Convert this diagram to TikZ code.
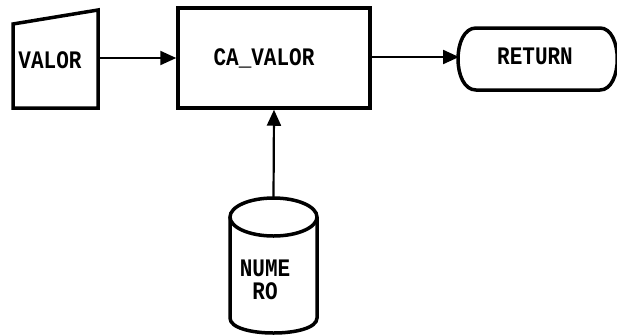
\documentclass[tikz,border=0pt]{standalone}
\usepackage{fontspec}
\newfontfamily\pixfont{Liberation Mono}
\usetikzlibrary{arrows.meta}
\tikzset{
  lbl/.style={font=\pixfont\bfseries\fontsize{21}{24}\selectfont, inner sep=0pt, align=center},
  outline/.style={line width=3.5pt, line join=miter},
  conn/.style={line width=2.2pt, -{Triangle[length=16pt,width=14pt]}},
}
\newcommand{\tall}[1]{\scalebox{1}[1.2]{#1}}
\begin{document}
\begin{tikzpicture}[x=1pt,y=-1pt]
\useasboundingbox (0,0) rectangle (617,335);
\clip (0,0) rectangle (617,335);
% VALOR manual input
\node[lbl, minimum width=85pt, minimum height=97pt] (valor) at (55.5,59) {};
\node[lbl] (valort) at (50,60) {\tall{VALOR}};
\draw[outline] (13,24) -- (98,10) -- (98,108) -- (13,108) -- cycle;
% CA_VALOR process
\node[lbl, draw, outline, minimum width=192pt, minimum height=100pt] (ca) at (274,58) {};
\node[lbl] (cat) at (264,58) {\tall{CA\_VALOR}};
% RETURN terminator
\node[lbl, minimum width=160pt, minimum height=62pt] (ret) at (537,59) {};
\node[lbl] (rett) at (535,56) {\tall{RETURN}};
\draw[outline] (476,28) -- (600,28) .. controls (623,28) and (623,90) .. (600,90)
  -- (476,90) .. controls (452,90) and (452,28) .. (476,28) -- cycle;
% NUMERO cylinder
\node[lbl, minimum width=87pt, minimum height=130pt] (num) at (273.5,262) {};
\node[lbl] (numt1) at (265,268) {\tall{NUME}};
\node[lbl] (numt2) at (265,291) {\tall{RO}};
\draw[outline] (230,217) -- (230,318) .. controls (230,338) and (317,338) .. (317,318) -- (317,217);
\draw[outline] (273.5,217) ellipse[x radius=43.5, y radius=19];
\coordinate (cyltop) at (273.5,198);
% connectors
\draw[conn] (valor.east |- ca.west) ++(1.5,0) -- (ca.west);
\draw[conn] (ca.east |- 0,57) -- (459,57);
\draw[conn] (cyltop) -- (ca.south);
\end{tikzpicture}
\end{document}
